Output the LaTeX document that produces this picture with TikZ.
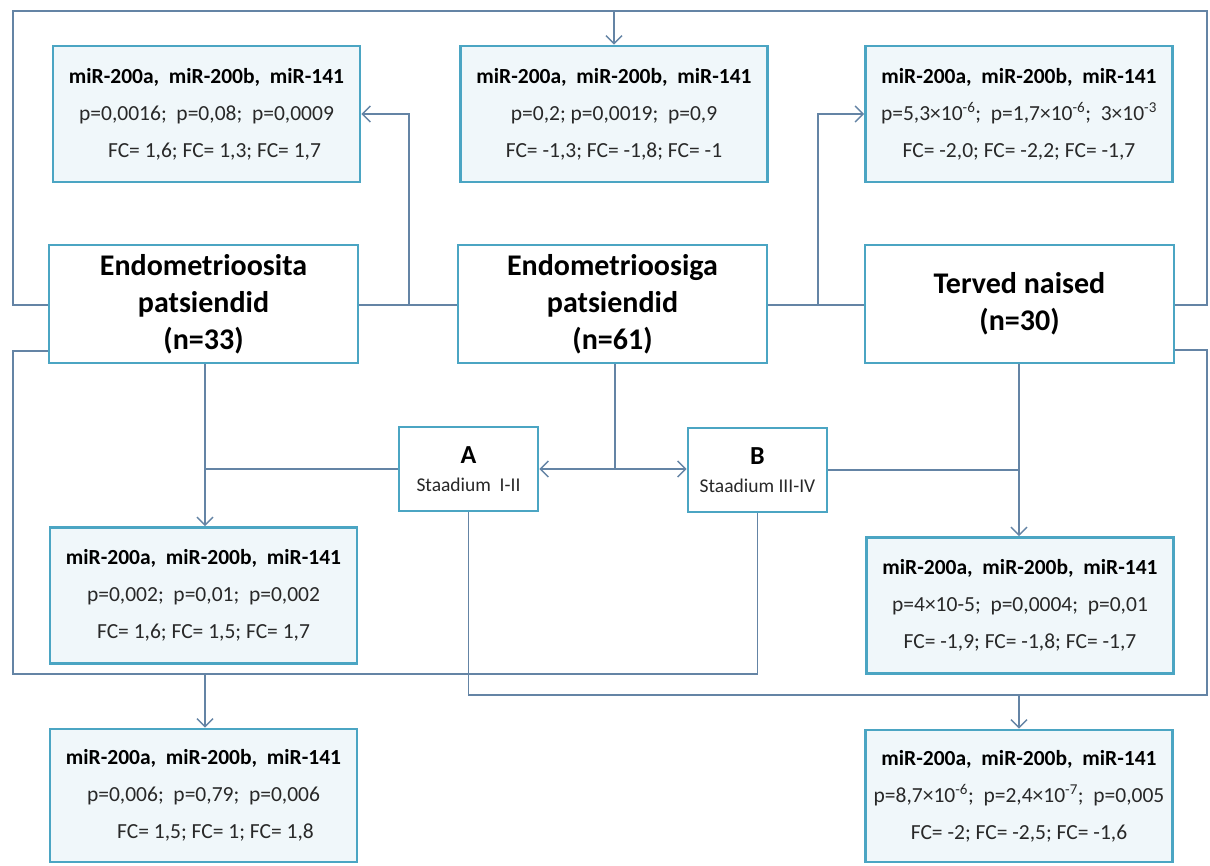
\documentclass[tikz,border=0pt]{standalone}
\usepackage{fontspec}
\setmainfont{Carlito}
\usetikzlibrary{arrows.meta}
\definecolor{boxc}{RGB}{75,165,195}
\definecolor{resfill}{RGB}{240,247,250}
\definecolor{linec}{RGB}{100,132,165}
\definecolor{txtc}{RGB}{40,40,40}
\begin{document}
\begin{tikzpicture}[x=1pt,y=-1pt,
  res/.style={draw=boxc, line width=2.6pt, fill=resfill, inner sep=0pt, align=center,
    text=txtc, font=\fontsize{21.5}{37}\selectfont, minimum width=307pt, minimum height=136pt},
  grp/.style={draw=boxc, line width=2.6pt, fill=white, inner sep=0pt, align=center,
    text=black, font=\bfseries\fontsize{30}{37}\selectfont, minimum width=309pt, minimum height=118pt},
  stg/.style={draw=boxc, line width=2.6pt, fill=white, inner sep=0pt, align=center,
    text=txtc, font=\fontsize{19.5}{28}\selectfont, minimum width=139pt, minimum height=84pt},
  conn/.style={draw=linec, line width=1.5pt},
  arr/.style={conn, -{Straight Barb[length=8pt,width=16pt,line width=1.5pt]}}
]
\useasboundingbox[fill=white] (0,0) rectangle (1210,865);
\newcommand{\mirs}{{\bfseries\color{black}miR-200a,~~miR-200b,~~miR-141}}
% result boxes
\node[res] (tl) at (206.5,114) {\mirs\\p=0,0016;~~p=0,08;~~p=0,0009\\\hspace*{16pt}FC= 1,6;~FC= 1,3;~FC= 1,7};
\node[res] (tm) at (614,114) {\mirs\\p=0,2;~p=0,0019;~~p=0,9\\FC= -1,3; FC= -1,8; FC= -1};
\node[res] (tr) at (1019,114) {\mirs\\p=5,3×10\textsuperscript{-6};~~p=1,7×10\textsuperscript{-6};~~3×10\textsuperscript{-3}\\FC= -2,0; FC= -2,2; FC= -1,7};
\node[res] (ml) at (203.5,595.5) {\mirs\\p=0,002;~~p=0,01;~~p=0,002\\FC= 1,6; FC= 1,5; FC= 1,7};
\node[res] (mr) at (1020,605.5) {\mirs\\p=4×10-5;~~p=0,0004;~~p=0,01\\FC= -1,9; FC= -1,8; FC= -1,7};
\node[res, minimum height=133pt] (bl) at (203.5,795.5) {\mirs\\p=0,006;~~p=0,79;~~p=0,006\\\hspace*{24pt}FC= 1,5; FC= 1; FC= 1,8};
\node[res, minimum height=132pt] (br) at (1019,796) {\mirs\\p=8,7×10\textsuperscript{-6};~~p=2,4×10\textsuperscript{-7};~~p=0,005\\FC= -2; FC= -2,5; FC= -1,6};
% group boxes
\node[grp] (e1) at (203.5,304) {Endometrioosita\\patsiendid\\(n=33)};
\node[grp] (e2) at (612.5,304) {Endometrioosiga\\patsiendid\\(n=61)};
\node[grp] (tn) at (1019.5,304) {Terved naised\\(n=30)};
% stage boxes
\node[stg] (a) at (468.5,469) {{\bfseries\color{black}\fontsize{26}{28}\selectfont A}\\Staadium~~I-II};
\node[stg] (b) at (757.5,470) {{\bfseries\color{black}\fontsize{26}{28}\selectfont B}\\Staadium III-IV};
% coordinates
\coordinate (tlc) at (13,11);
\coordinate (trc) at (1207,11);
\coordinate (jl) at (409,305);
\coordinate (jr) at (818,305);
\coordinate (jm) at (615,469);
\coordinate (jla) at (205,469);
\coordinate (jrb) at (1019,470);
\coordinate (lowl) at (13,674);
\coordinate (lowr) at (1207,695);
% top loop
\draw[conn] (e1.west |- jl) -- (tlc |- jl) -- (tlc) -- (trc) -- (trc |- jr) -- (tn.east |- jr);
\draw[arr] (tm.north |- tlc) -- (tm.north);
% upper comparisons
\draw[conn] (e1.east |- jl) -- (e2.west |- jl);
\draw[arr] (jl) -- (jl |- tl.east) -- (tl.east);
\draw[conn] (e2.east |- jr) -- (tn.west |- jr);
\draw[arr] (jr) -- (jr |- tr.west) -- (tr.west);
% stages
\draw[conn] (e2.south -| jm) -- (jm);
\draw[arr] (jm) -- (a.east |- jm);
\draw[arr] (jm) -- (b.west |- jm);
% E1 vs A
\draw[arr] (e1.south -| jla) -- (ml.north -| jla);
\draw[conn] (a.west |- jla) -- (jla);
% Terved vs B
\draw[arr] (tn.south -| jrb) -- (mr.north -| jrb);
\draw[conn] (b.east |- jrb) -- (jrb);
% E1 vs B
\draw[conn] (e1.west |- 0,351) -- (lowl |- 0,351) -- (lowl) -- (b.south |- lowl) -- (b.south);
\draw[arr] (jla |- lowl) -- (bl.north -| jla);
% Terved vs A
\draw[conn] (tn.east |- 0,350) -- (lowr |- 0,350) -- (lowr) -- (a.south |- lowr) -- (a.south);
\draw[arr] (jrb |- lowr) -- (br.north -| jrb);
\end{tikzpicture}
\end{document}
